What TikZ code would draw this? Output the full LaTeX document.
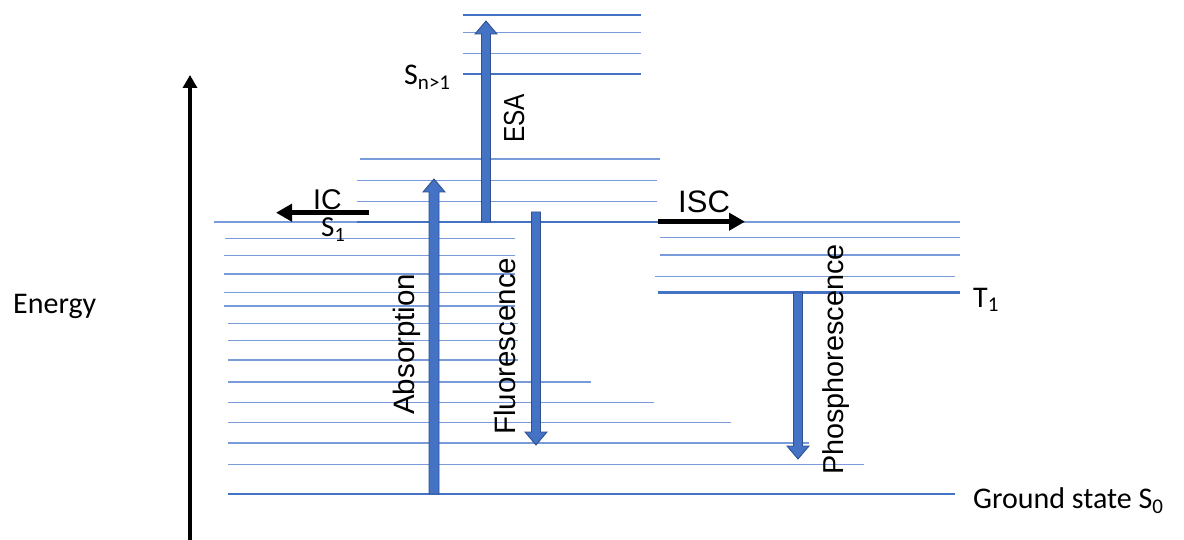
\documentclass[tikz,border=0pt]{standalone}
\usepackage{fontspec}
\setmainfont{Carlito}
\newfontfamily\arialf{Liberation Sans}
\newfontfamily\arialnarrow[FakeStretch=0.84]{Liberation Sans}
\usetikzlibrary{arrows.meta,calc}
\definecolor{lvlthin}{HTML}{7A9BDA}
\definecolor{lvlthick}{HTML}{4472C4}
\definecolor{arrfill}{HTML}{4472C4}
\definecolor{arrline}{HTML}{2F528F}
\tikzset{
  thinlvl/.style={draw=lvlthin, line width=1.3pt},
  thicklvl/.style={draw=lvlthick, line width=2.5pt},
  blockarrow/.style={fill=arrfill, draw=arrline, line width=0.9pt, line join=miter},
  blackarrow/.style={draw=black, line width=5.5pt, -{Triangle[width=17pt,length=16pt]}},
  axisarrow/.style={draw=black, line width=3.5pt, -{Triangle[width=14pt,length=13pt]}},
  calib/.style={inner sep=0pt, font=\fontsize{30}{36}\selectfont},
  arialtxt/.style={inner sep=0pt, font=\arialf\fontsize{29.5}{35}\selectfont},
}
\newcommand\blockarr[3]{%
  \path[blockarrow] let \p1=(#1), \p2=(#2), \n1={ifthenelse(\y2>\y1,1,-1)} in
   ({\x1-#3},\y1) -- ({\x1-#3},{\y2-\n1*13pt}) -- ({\x1-11pt},{\y2-\n1*13pt}) -- (\x2,\y2)
   -- ({\x1+11pt},{\y2-\n1*13pt}) -- ({\x1+#3},{\y2-\n1*13pt}) -- ({\x1+#3},\y1) -- cycle;}
\begin{document}
\begin{tikzpicture}[x=1pt,y=-1pt]
\useasboundingbox (0,0) rectangle (1184,540);
% thin levels
\foreach \a/\b/\c in {463/641/32.7, 463/641/53.3,
  360/660/159, 357/657/180.7, 357/657/201.3,
  214/357/222,
  658/960/222, 660/960/237.7, 660/960/255, 655/955/276.7,
  225/515/238.3, 224/515/255.5, 224/515/274, 224/515/292.7, 224/515/306,
  228/518/323.3, 228/518/340.7, 228/518/360, 228/591/382, 228/654/402.5,
  228/731/422.3, 228/809/443, 228/864/464.2}
  \draw[thinlvl] (\a,\c) -- (\b,\c);
% thick levels
\draw[thicklvl, line width=1.8pt] (463,15) -- (641,15);
\foreach \a/\b/\c in {463/641/74, 357/660/222, 658/960/292.7, 228/955/494}
  \draw[thicklvl] (\a,\c) -- (\b,\c);
% energy axis
\coordinate (eB) at (190,540);
\coordinate (eT) at (190,75);
\draw[axisarrow] (eB) -- (eT);
% block arrows
\coordinate (absS) at (434,494); \coordinate (absE) at (434,179);
\coordinate (esaS) at (486,222); \coordinate (esaE) at (486,21);
\coordinate (flS) at (536,212);  \coordinate (flE) at (536,445);
\coordinate (phS) at (798,292);  \coordinate (phE) at (798,459);
\blockarr{absS}{absE}{5pt}
\blockarr{esaS}{esaE}{4.5pt}
\blockarr{flS}{flE}{4.5pt}
\blockarr{phS}{phE}{4.5pt}
% texts
\node[calib, anchor=base west] (energy) at (13,313) {Energy};
\node[calib, anchor=base west] (gs) at (973,508) {Ground state S\textsubscript{0}};
\node[calib, anchor=base west] (t1) at (973,307) {T\textsubscript{1}};
\node[calib, anchor=base west] (sn) at (404,85) {S\textsubscript{n>1}};
\node[calib, anchor=base west, font=\fontsize{29}{34}\selectfont] (s1) at (321,237) {S\textsubscript{1}};
\node[arialtxt, anchor=base west, font=\arialf\fontsize{28.5}{34}\selectfont] (ic) at (313,210) {IC};
\node[arialtxt, anchor=base west, font=\arialf\fontsize{31}{36}\selectfont] (isc) at (678,213) {ISC};
\node[arialtxt, rotate=90, anchor=base west] (abs) at (414,415) {Absorption};
\node[arialtxt, rotate=90, anchor=base west] (fl) at (515,435) {Fluorescence};
\node[arialtxt, rotate=90, anchor=base west, font=\arialf\fontsize{28.8}{34}\selectfont] (ph) at (843,475) {Phosphorescence};
\node[arialtxt, rotate=90, anchor=base west, font=\arialnarrow\fontsize{29}{34}\selectfont] (esa) at (524,143) {ESA};
% black arrows
\coordinate (icS) at (369,212.7); \coordinate (icE) at (276,212.7);
\coordinate (iscS) at (658,221.7); \coordinate (iscE) at (745,221.7);
\draw[blackarrow] (icS) -- (icE);
\draw[blackarrow] (iscS) -- (iscE);
\end{tikzpicture}
\end{document}
